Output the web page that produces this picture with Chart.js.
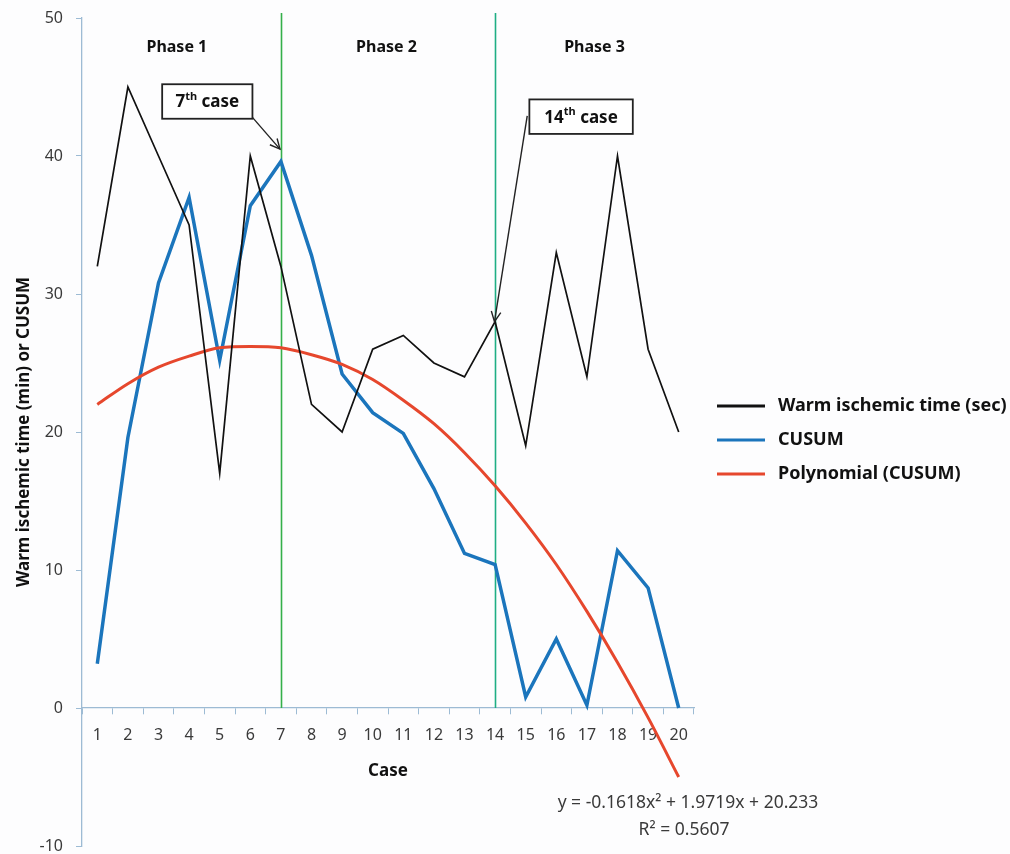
<!DOCTYPE html>
<html>
<head>
<meta charset="utf-8">
<script src="https://cdn.jsdelivr.net/npm/chart.js@4/dist/chart.umd.min.js"></script>
<style>
  html, body { margin: 0; padding: 0; background: #fdfdfe; }
  #wrap { width: 1010px; height: 854px; position: relative; }
</style>
</head>
<body>
<div id="wrap"><canvas id="c" width="1010" height="854"></canvas></div>
<script>
// ---- data ----
const cases = ['1','2','3','4','5','6','7','8','9','10','11','12','13','14','15','16','17','18','19','20'];
const warmTime = [32, 45, 40, 35, 17, 40, 32, 22, 20, 26, 27, 25, 24, 28, 19, 33, 24, 40, 26, 20];
const cusum = [3.2, 19.6, 30.8, 37.0, 25.2, 36.4, 39.6, 32.8, 24.2, 21.4, 19.9, 15.9, 11.2, 10.4, 0.8, 5.0, 0.2, 11.4, 8.7, 0];
const polyCusum = [22.0, 23.5, 24.7, 25.5, 26.1, 26.2, 26.1, 25.6, 24.9, 23.8, 22.3, 20.6, 18.5, 16.1, 13.4, 10.4, 7.0, 3.3, -0.7, -5.0];
const seriesNames = ['Warm ischemic time (sec)', 'CUSUM', 'Polynomial (CUSUM)'];
const yMin = -10, yMax = 50, yStep = 10;
const phaseLabels = ['Phase 1', 'Phase 2', 'Phase 3'];
const phaseBoundaryCases = ['7', '14'];
const equationText = 'y = -0.1618x² + 1.9719x + 20.233';
const r2Text = 'R² = 0.5607';

const FONT = "'Noto Sans', 'Open Sans', sans-serif";
const AXIS_COLOR = '#9dbbd4';
const TEXT_COLOR = '#3a3a3a';

// annotation placement (in data units: x = category index, y = value)
const phasePos = [{x: 2.6, y: 47.9}, {x: 9.45, y: 47.9}, {x: 16.25, y: 47.9}];
const callouts = [
  { num: '7', box: {x0: 2.12, x1: 5.07, y0: 45.2, y1: 42.7}, from: {x: 5.07, y: 42.8}, to: {x: 5.97, y: 40.5} },
  { num: '14', box: {x0: 14.12, x1: 17.5, y0: 44.1, y1: 41.6}, from: {x: 14.05, y: 42.9}, to: {x: 12.98, y: 28.0} }
];

function arrowHead(ctx, x0, y0, x1, y1, len) {
  const a = Math.atan2(y1 - y0, x1 - x0);
  ctx.beginPath();
  ctx.moveTo(x1 - len * Math.cos(a - 0.45), y1 - len * Math.sin(a - 0.45));
  ctx.lineTo(x1, y1);
  ctx.lineTo(x1 - len * Math.cos(a + 0.45), y1 - len * Math.sin(a + 0.45));
  ctx.stroke();
}

const decorPlugin = {
  id: 'decor',
  beforeDatasetsDraw(chart) {
    const {ctx, scales: {x, y}, chartArea} = chart;
    ctx.save();
    const greens = ['#35b04a', '#1fae84'];
    phaseBoundaryCases.forEach((c, i) => {
      const px = Math.round(x.getPixelForValue(cases.indexOf(c))) + 0.5;
      ctx.strokeStyle = greens[i];
      ctx.lineWidth = 1.6;
      ctx.beginPath();
      ctx.moveTo(px, chartArea.top - 5);
      ctx.lineTo(px, y.getPixelForValue(0));
      ctx.stroke();
    });
    ctx.restore();
  },
  afterDatasetsDraw(chart) {
    const {ctx, scales: {x, y}} = chart;
    ctx.save();
    // phase labels
    ctx.fillStyle = '#111';
    ctx.font = "bold 16px " + FONT;
    ctx.textAlign = 'center';
    ctx.textBaseline = 'middle';
    phaseLabels.forEach((t, i) => {
      ctx.fillText(t, x.getPixelForValue(phasePos[i].x), y.getPixelForValue(phasePos[i].y));
    });
    // callouts
    callouts.forEach(co => {
      const bx0 = x.getPixelForValue(co.box.x0), bx1 = x.getPixelForValue(co.box.x1);
      const by0 = y.getPixelForValue(co.box.y0), by1 = y.getPixelForValue(co.box.y1);
      ctx.fillStyle = '#ffffff';
      ctx.fillRect(bx0, by0, bx1 - bx0, by1 - by0);
      ctx.strokeStyle = '#222';
      ctx.lineWidth = 1.8;
      ctx.strokeRect(bx0, by0, bx1 - bx0, by1 - by0);
      const big = "bold 17px " + FONT, small = "bold 11px " + FONT;
      ctx.font = big; const w1 = ctx.measureText(co.num).width;
      ctx.font = small; const w2 = ctx.measureText('th').width;
      ctx.font = big; const w3 = ctx.measureText(' case').width;
      let tx = (bx0 + bx1) / 2 - (w1 + w2 + w3) / 2;
      const ty = (by0 + by1) / 2 + 1;
      ctx.textAlign = 'left';
      ctx.textBaseline = 'middle';
      ctx.fillStyle = '#111';
      ctx.font = big; ctx.fillText(co.num, tx, ty); tx += w1;
      ctx.font = small; ctx.fillText('th', tx, ty - 6); tx += w2;
      ctx.font = big; ctx.fillText(' case', tx, ty);
      const ax0 = x.getPixelForValue(co.from.x), ay0 = y.getPixelForValue(co.from.y);
      const ax1 = x.getPixelForValue(co.to.x), ay1 = y.getPixelForValue(co.to.y);
      ctx.strokeStyle = '#222';
      ctx.lineWidth = 1.4;
      ctx.beginPath(); ctx.moveTo(ax0, ay0); ctx.lineTo(ax1, ay1); ctx.stroke();
      arrowHead(ctx, ax0, ay0, ax1, ay1, 11);
    });
    ctx.restore();
  },
  afterDraw(chart) {
    const {ctx, chartArea, data} = chart;
    ctx.save();
    // legend
    const lx = chartArea.right + 23;
    const ly0 = 406;
    data.datasets.forEach((ds, i) => {
      const ly = ly0 + i * 34;
      ctx.strokeStyle = ds.borderColor;
      ctx.lineWidth = 3;
      ctx.beginPath(); ctx.moveTo(lx, ly); ctx.lineTo(lx + 48, ly); ctx.stroke();
      ctx.fillStyle = '#111';
      ctx.font = "bold 18px " + FONT;
      ctx.textAlign = 'left';
      ctx.textBaseline = 'middle';
      ctx.fillText(ds.label, lx + 61, ly);
    });
    // trendline equation
    ctx.fillStyle = TEXT_COLOR;
    ctx.font = "17.5px " + FONT;
    ctx.textAlign = 'center';
    ctx.textBaseline = 'middle';
    ctx.fillText(equationText, 688, 803);
    ctx.fillText(r2Text, 684, 830);
    ctx.restore();
  }
};

new Chart(document.getElementById('c'), {
  type: 'line',
  data: {
    labels: cases,
    datasets: [
      { label: seriesNames[0], data: warmTime, borderColor: '#111111', borderWidth: 1.7, pointRadius: 0, tension: 0, order: 1 },
      { label: seriesNames[1], data: cusum, borderColor: '#1b75bc', borderWidth: 3.5, pointRadius: 0, tension: 0, order: 3 },
      { label: seriesNames[2], data: polyCusum, borderColor: '#e6472d', borderWidth: 3, pointRadius: 0, cubicInterpolationMode: 'monotone', order: 2 }
    ]
  },
  options: {
    responsive: false,
    animation: false,
    layout: { padding: { left: 0, right: 316, top: 18, bottom: 8 } },
    plugins: { legend: { display: false }, tooltip: { enabled: false } },
    scales: {
      x: {
        position: { y: 0 },
        offset: true,
        grid: { offset: true, drawOnChartArea: false, drawTicks: true, tickLength: 6, color: AXIS_COLOR, lineWidth: 1 },
        border: { display: true, color: AXIS_COLOR, width: 1.3 },
        ticks: { color: TEXT_COLOR, font: { family: FONT, size: 16 }, padding: 12, maxRotation: 0, autoSkip: false },
        title: { display: true, text: 'Case', color: '#111', font: { family: FONT, size: 17, weight: 'bold' }, padding: { top: 0, bottom: -73 } },
        afterFit(scale) { scale.height = 0; scale.paddingLeft = 0; scale.paddingRight = 0; }
      },
      y: {
        min: yMin, max: yMax,
        grid: { drawOnChartArea: false, drawTicks: true, tickLength: 6, color: AXIS_COLOR },
        border: { display: true, color: AXIS_COLOR, width: 1.3 },
        ticks: { stepSize: yStep, color: TEXT_COLOR, font: { family: FONT, size: 16 }, padding: 13 },
        title: { display: true, text: 'Warm ischemic time (min) or CUSUM', color: '#111', font: { family: FONT, size: 17, weight: 'bold' }, padding: { top: 14, bottom: 0 } },
        afterFit(scale) { scale.width = 82; scale.paddingTop = 0; scale.paddingBottom = 0; }
      }
    }
  },
  plugins: [decorPlugin]
});
</script>
</body>
</html>
